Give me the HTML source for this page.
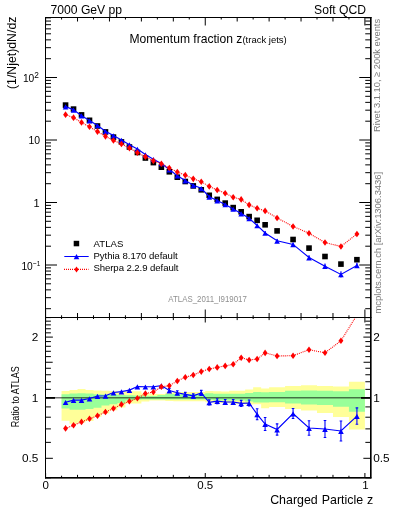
<!DOCTYPE html>
<html><head><meta charset="utf-8"><style>
html,body{margin:0;padding:0;background:#fff;width:393px;height:512px;overflow:hidden}
svg{display:block;font-family:"Liberation Sans",sans-serif;will-change:transform}
</style></head><body>
<svg width="393" height="512" viewBox="0 0 393 512">
<rect width="393" height="512" fill="#fff"/>
<defs><clipPath id="cu"><rect x="45.5" y="17.5" width="325" height="300"/></clipPath>
<clipPath id="cl"><rect x="45.5" y="317.5" width="325" height="160"/></clipPath></defs>
<g clip-path="url(#cl)">
<path d="M61.57 390.9 L69.55 390.9 L69.55 390 L77.53 390 L77.53 389.1 L85.51 389.1 L85.51 390 L93.5 390 L93.5 390.6 L101.48 390.6 L101.48 390.7 L109.46 390.7 L109.46 391 L117.44 391 L117.44 391.9 L125.43 391.9 L125.43 391.2 L133.41 391.2 L133.41 391.2 L141.39 391.2 L141.39 393.4 L149.37 393.4 L149.37 393.7 L157.36 393.7 L157.36 394 L165.34 394 L165.34 392.5 L173.32 392.5 L173.32 392 L181.3 392 L181.3 392 L189.28 392 L189.28 392.1 L197.27 392.1 L197.27 392.1 L205.25 392.1 L205.25 391 L213.23 391 L213.23 391.3 L221.22 391.3 L221.22 391.5 L229.2 391.5 L229.2 390.7 L237.18 390.7 L237.18 390.7 L245.16 390.7 L245.16 389.5 L253.15 389.5 L253.15 387.3 L261.13 387.3 L261.13 388.4 L269.11 388.4 L269.11 387.3 L285.08 387.3 L285.08 385.9 L301.04 385.9 L301.04 385.3 L317.01 385.3 L317.01 385.9 L332.97 385.9 L332.97 386.4 L348.94 386.4 L348.94 381.8 L364.9 381.8 L364.9 429.5 L348.94 429.5 L348.94 417 L332.97 417 L332.97 413.1 L317.01 413.1 L317.01 410.4 L301.04 410.4 L301.04 409 L285.08 409 L285.08 407.1 L269.11 407.1 L269.11 408.2 L261.13 408.2 L261.13 404.2 L253.15 404.2 L253.15 404.4 L245.16 404.4 L245.16 403.7 L237.18 403.7 L237.18 403.7 L229.2 403.7 L229.2 402.9 L221.22 402.9 L221.22 402.9 L213.23 402.9 L213.23 402.2 L205.25 402.2 L205.25 401.3 L197.27 401.3 L197.27 401.3 L189.28 401.3 L189.28 401.3 L181.3 401.3 L181.3 401.3 L173.32 401.3 L173.32 401 L165.34 401 L165.34 400.5 L157.36 400.5 L157.36 400.6 L149.37 400.6 L149.37 401.4 L141.39 401.4 L141.39 403.4 L133.41 403.4 L133.41 403.4 L125.43 403.4 L125.43 407.5 L117.44 407.5 L117.44 410.3 L109.46 410.3 L109.46 413.5 L101.48 413.5 L101.48 416.7 L93.5 416.7 L93.5 421 L85.51 421 L85.51 422.4 L77.53 422.4 L77.53 423.7 L69.55 423.7 L69.55 420.8 L61.57 420.8Z" fill="#ffff99"/>
<path d="M61.57 394.2 L69.55 394.2 L69.55 393.4 L77.53 393.4 L77.53 393.2 L85.51 393.2 L85.51 393.4 L93.5 393.4 L93.5 394.2 L101.48 394.2 L101.48 394.5 L109.46 394.5 L109.46 394.5 L117.44 394.5 L117.44 395 L125.43 395 L125.43 395.3 L133.41 395.3 L133.41 395.6 L141.39 395.6 L141.39 395.8 L149.37 395.8 L149.37 396 L157.36 396 L157.36 395 L165.34 395 L165.34 394.1 L173.32 394.1 L173.32 394.1 L181.3 394.1 L181.3 394.1 L189.28 394.1 L189.28 394.1 L197.27 394.1 L197.27 394.1 L205.25 394.1 L205.25 393.3 L213.23 393.3 L213.23 393.7 L221.22 393.7 L221.22 393.7 L229.2 393.7 L229.2 393.7 L237.18 393.7 L237.18 393.7 L245.16 393.7 L245.16 393 L253.15 393 L253.15 391.9 L261.13 391.9 L261.13 392.2 L269.11 392.2 L269.11 391.9 L285.08 391.9 L285.08 390.8 L301.04 390.8 L301.04 390.5 L317.01 390.5 L317.01 390.8 L332.97 390.8 L332.97 391.3 L348.94 391.3 L348.94 389.2 L364.9 389.2 L364.9 411.8 L348.94 411.8 L348.94 406.7 L332.97 406.7 L332.97 405 L317.01 405 L317.01 404.4 L301.04 404.4 L301.04 403.6 L285.08 403.6 L285.08 402.2 L269.11 402.2 L269.11 402.6 L261.13 402.6 L261.13 402.6 L253.15 402.6 L253.15 401.4 L245.16 401.4 L245.16 400.6 L237.18 400.6 L237.18 400.6 L229.2 400.6 L229.2 400.6 L221.22 400.6 L221.22 400.6 L213.23 400.6 L213.23 399.7 L205.25 399.7 L205.25 399.4 L197.27 399.4 L197.27 399.4 L189.28 399.4 L189.28 399.4 L181.3 399.4 L181.3 399.4 L173.32 399.4 L173.32 399.4 L165.34 399.4 L165.34 399.4 L157.36 399.4 L157.36 399.5 L149.37 399.5 L149.37 399.6 L141.39 399.6 L141.39 399.8 L133.41 399.8 L133.41 400.6 L125.43 400.6 L125.43 403 L117.44 403 L117.44 404.3 L109.46 404.3 L109.46 405.5 L101.48 405.5 L101.48 407.8 L93.5 407.8 L93.5 409.1 L85.51 409.1 L85.51 409.7 L77.53 409.7 L77.53 409.7 L69.55 409.7 L69.55 408.4 L61.57 408.4Z" fill="#99ff99"/>
<line x1="45.5" y1="397.7" x2="370.5" y2="397.7" stroke="#000" stroke-opacity="0.55" stroke-width="1.4"/>
<path d="M45.5 397.9H55" stroke="#000" stroke-width="1.8"/><path d="M370.75 397.9H361" stroke="#000" stroke-width="1.8"/>
<polyline points="65.56,402.2 73.54,400.1 81.52,400.1 89.5,398.5 97.49,396 105.47,395.8 113.45,392.5 121.43,391.6 129.42,390.1 137.4,386.5 145.38,386.7 153.36,386.7 161.35,385.6 169.33,390.5 177.31,392.8 185.29,394.4 193.28,395.9 201.26,392.9 209.24,402.4 217.22,401.2 225.21,402 233.19,402 241.17,403.4 249.15,403 257.14,414.3 265.12,424 277.09,429.5 293.06,413.5 309.02,428 324.99,429 340.95,431 356.92,416.1" fill="none" stroke="#0000ff" stroke-width="1.15"/>
<path d="M169.33 388.5V392.5M168.03 388.5h2.6M168.03 392.5h2.6" stroke="#0000ff" stroke-width="1.1"/>
<path d="M177.31 390.8V394.8M176.01 390.8h2.6M176.01 394.8h2.6" stroke="#0000ff" stroke-width="1.1"/>
<path d="M185.29 392.4V396.4M183.99 392.4h2.6M183.99 396.4h2.6" stroke="#0000ff" stroke-width="1.1"/>
<path d="M193.28 393.9V397.9M191.98 393.9h2.6M191.98 397.9h2.6" stroke="#0000ff" stroke-width="1.1"/>
<path d="M201.26 390.4V395.4M199.96 390.4h2.6M199.96 395.4h2.6" stroke="#0000ff" stroke-width="1.1"/>
<path d="M209.24 399.9V404.9M207.94 399.9h2.6M207.94 404.9h2.6" stroke="#0000ff" stroke-width="1.1"/>
<path d="M217.22 398.7V403.7M215.92 398.7h2.6M215.92 403.7h2.6" stroke="#0000ff" stroke-width="1.1"/>
<path d="M225.21 399.5V404.5M223.91 399.5h2.6M223.91 404.5h2.6" stroke="#0000ff" stroke-width="1.1"/>
<path d="M233.19 399.5V404.5M231.89 399.5h2.6M231.89 404.5h2.6" stroke="#0000ff" stroke-width="1.1"/>
<path d="M241.17 400.4V406.4M239.87 400.4h2.6M239.87 406.4h2.6" stroke="#0000ff" stroke-width="1.1"/>
<path d="M249.15 400V406M247.85 400h2.6M247.85 406h2.6" stroke="#0000ff" stroke-width="1.1"/>
<path d="M257.14 408.8V419.8M255.84 408.8h2.6M255.84 419.8h2.6" stroke="#0000ff" stroke-width="1.1"/>
<path d="M265.12 417.5V430.5M263.82 417.5h2.6M263.82 430.5h2.6" stroke="#0000ff" stroke-width="1.1"/>
<path d="M277.09 423.9V435.1M275.79 423.9h2.6M275.79 435.1h2.6" stroke="#0000ff" stroke-width="1.1"/>
<path d="M293.06 408.5V418.5M291.76 408.5h2.6M291.76 418.5h2.6" stroke="#0000ff" stroke-width="1.1"/>
<path d="M309.02 420.8V435.2M307.72 420.8h2.6M307.72 435.2h2.6" stroke="#0000ff" stroke-width="1.1"/>
<path d="M324.99 420.5V437.5M323.69 420.5h2.6M323.69 437.5h2.6" stroke="#0000ff" stroke-width="1.1"/>
<path d="M340.95 421V441M339.65 421h2.6M339.65 441h2.6" stroke="#0000ff" stroke-width="1.1"/>
<path d="M356.92 407.9V424.3M355.62 407.9h2.6M355.62 424.3h2.6" stroke="#0000ff" stroke-width="1.1"/>
<path d="M65.56 399.9L68.36 405.1L62.76 405.1Z" fill="#0000ff"/>
<path d="M73.54 397.8L76.34 403L70.74 403Z" fill="#0000ff"/>
<path d="M81.52 397.8L84.32 403L78.72 403Z" fill="#0000ff"/>
<path d="M89.5 396.2L92.3 401.4L86.7 401.4Z" fill="#0000ff"/>
<path d="M97.49 393.7L100.29 398.9L94.69 398.9Z" fill="#0000ff"/>
<path d="M105.47 393.5L108.27 398.7L102.67 398.7Z" fill="#0000ff"/>
<path d="M113.45 390.2L116.25 395.4L110.65 395.4Z" fill="#0000ff"/>
<path d="M121.43 389.3L124.23 394.5L118.63 394.5Z" fill="#0000ff"/>
<path d="M129.42 387.8L132.22 393L126.62 393Z" fill="#0000ff"/>
<path d="M137.4 384.2L140.2 389.4L134.6 389.4Z" fill="#0000ff"/>
<path d="M145.38 384.4L148.18 389.6L142.58 389.6Z" fill="#0000ff"/>
<path d="M153.36 384.4L156.16 389.6L150.56 389.6Z" fill="#0000ff"/>
<path d="M161.35 383.3L164.15 388.5L158.55 388.5Z" fill="#0000ff"/>
<path d="M169.33 388.2L172.13 393.4L166.53 393.4Z" fill="#0000ff"/>
<path d="M177.31 390.5L180.11 395.7L174.51 395.7Z" fill="#0000ff"/>
<path d="M185.29 392.1L188.09 397.3L182.49 397.3Z" fill="#0000ff"/>
<path d="M193.28 393.6L196.08 398.8L190.48 398.8Z" fill="#0000ff"/>
<path d="M201.26 390.6L204.06 395.8L198.46 395.8Z" fill="#0000ff"/>
<path d="M209.24 400.1L212.04 405.3L206.44 405.3Z" fill="#0000ff"/>
<path d="M217.22 398.9L220.02 404.1L214.42 404.1Z" fill="#0000ff"/>
<path d="M225.21 399.7L228.01 404.9L222.41 404.9Z" fill="#0000ff"/>
<path d="M233.19 399.7L235.99 404.9L230.39 404.9Z" fill="#0000ff"/>
<path d="M241.17 401.1L243.97 406.3L238.37 406.3Z" fill="#0000ff"/>
<path d="M249.15 400.7L251.95 405.9L246.35 405.9Z" fill="#0000ff"/>
<path d="M257.14 412L259.94 417.2L254.34 417.2Z" fill="#0000ff"/>
<path d="M265.12 421.7L267.92 426.9L262.32 426.9Z" fill="#0000ff"/>
<path d="M277.09 427.2L279.89 432.4L274.29 432.4Z" fill="#0000ff"/>
<path d="M293.06 411.2L295.86 416.4L290.26 416.4Z" fill="#0000ff"/>
<path d="M309.02 425.7L311.82 430.9L306.22 430.9Z" fill="#0000ff"/>
<path d="M324.99 426.7L327.79 431.9L322.19 431.9Z" fill="#0000ff"/>
<path d="M340.95 428.7L343.75 433.9L338.15 433.9Z" fill="#0000ff"/>
<path d="M356.92 413.8L359.72 419L354.12 419Z" fill="#0000ff"/>
<polyline points="65.56,428.4 73.54,425.2 81.52,421.9 89.5,418.7 97.49,415.8 105.47,412 113.45,408.5 121.43,404.4 129.42,401.3 137.4,398.2 145.38,393.6 153.36,392 161.35,386.8 169.33,385.7 177.31,381 185.29,377.2 193.28,375 201.26,371.6 209.24,369 217.22,367.4 225.21,365.9 233.19,364.3 241.17,357.8 249.15,360 257.14,359 265.12,352.9 277.09,356 293.06,355.7 309.02,349.7 324.99,352.8 340.95,340.8 356.92,315" fill="none" stroke="#ff0000" stroke-width="1.1" stroke-dasharray="1 1"/>
<path d="M65.56 425.1L68.01 428.4L65.56 431.7L63.11 428.4Z" fill="#ff0000"/>
<path d="M73.54 421.9L75.99 425.2L73.54 428.5L71.09 425.2Z" fill="#ff0000"/>
<path d="M81.52 418.6L83.97 421.9L81.52 425.2L79.07 421.9Z" fill="#ff0000"/>
<path d="M89.5 415.4L91.95 418.7L89.5 422L87.05 418.7Z" fill="#ff0000"/>
<path d="M97.49 412.5L99.94 415.8L97.49 419.1L95.04 415.8Z" fill="#ff0000"/>
<path d="M105.47 408.7L107.92 412L105.47 415.3L103.02 412Z" fill="#ff0000"/>
<path d="M113.45 405.2L115.9 408.5L113.45 411.8L111 408.5Z" fill="#ff0000"/>
<path d="M121.43 401.1L123.88 404.4L121.43 407.7L118.98 404.4Z" fill="#ff0000"/>
<path d="M129.42 398L131.87 401.3L129.42 404.6L126.97 401.3Z" fill="#ff0000"/>
<path d="M137.4 394.9L139.85 398.2L137.4 401.5L134.95 398.2Z" fill="#ff0000"/>
<path d="M145.38 390.3L147.83 393.6L145.38 396.9L142.93 393.6Z" fill="#ff0000"/>
<path d="M153.36 388.7L155.81 392L153.36 395.3L150.91 392Z" fill="#ff0000"/>
<path d="M161.35 383.5L163.8 386.8L161.35 390.1L158.9 386.8Z" fill="#ff0000"/>
<path d="M169.33 382.4L171.78 385.7L169.33 389L166.88 385.7Z" fill="#ff0000"/>
<path d="M177.31 377.7L179.76 381L177.31 384.3L174.86 381Z" fill="#ff0000"/>
<path d="M185.29 373.9L187.74 377.2L185.29 380.5L182.84 377.2Z" fill="#ff0000"/>
<path d="M193.28 371.7L195.73 375L193.28 378.3L190.83 375Z" fill="#ff0000"/>
<path d="M201.26 368.3L203.71 371.6L201.26 374.9L198.81 371.6Z" fill="#ff0000"/>
<path d="M209.24 365.7L211.69 369L209.24 372.3L206.79 369Z" fill="#ff0000"/>
<path d="M217.22 364.1L219.67 367.4L217.22 370.7L214.77 367.4Z" fill="#ff0000"/>
<path d="M225.21 362.6L227.66 365.9L225.21 369.2L222.76 365.9Z" fill="#ff0000"/>
<path d="M233.19 361L235.64 364.3L233.19 367.6L230.74 364.3Z" fill="#ff0000"/>
<path d="M241.17 354.5L243.62 357.8L241.17 361.1L238.72 357.8Z" fill="#ff0000"/>
<path d="M249.15 356.7L251.6 360L249.15 363.3L246.7 360Z" fill="#ff0000"/>
<path d="M257.14 355.7L259.59 359L257.14 362.3L254.69 359Z" fill="#ff0000"/>
<path d="M265.12 349.6L267.57 352.9L265.12 356.2L262.67 352.9Z" fill="#ff0000"/>
<path d="M277.09 352.7L279.54 356L277.09 359.3L274.64 356Z" fill="#ff0000"/>
<path d="M293.06 352.4L295.51 355.7L293.06 359L290.61 355.7Z" fill="#ff0000"/>
<path d="M309.02 346.4L311.47 349.7L309.02 353L306.57 349.7Z" fill="#ff0000"/>
<path d="M324.99 349.5L327.44 352.8L324.99 356.1L322.54 352.8Z" fill="#ff0000"/>
<path d="M340.95 337.5L343.4 340.8L340.95 344.1L338.5 340.8Z" fill="#ff0000"/>
<path d="M356.92 311.7L359.37 315L356.92 318.3L354.47 315Z" fill="#ff0000"/>
</g>
<g clip-path="url(#cu)">
<rect x="62.76" y="102.3" width="5.6" height="5.6" fill="#000"/>
<rect x="70.74" y="106.3" width="5.6" height="5.6" fill="#000"/>
<rect x="78.72" y="112.1" width="5.6" height="5.6" fill="#000"/>
<rect x="86.7" y="117.5" width="5.6" height="5.6" fill="#000"/>
<rect x="94.69" y="123.2" width="5.6" height="5.6" fill="#000"/>
<rect x="102.67" y="129.1" width="5.6" height="5.6" fill="#000"/>
<rect x="110.65" y="134.3" width="5.6" height="5.6" fill="#000"/>
<rect x="118.63" y="139.1" width="5.6" height="5.6" fill="#000"/>
<rect x="126.62" y="144.2" width="5.6" height="5.6" fill="#000"/>
<rect x="134.6" y="149.7" width="5.6" height="5.6" fill="#000"/>
<rect x="142.58" y="155.2" width="5.6" height="5.6" fill="#000"/>
<rect x="150.56" y="159.8" width="5.6" height="5.6" fill="#000"/>
<rect x="158.55" y="164.4" width="5.6" height="5.6" fill="#000"/>
<rect x="166.53" y="169" width="5.6" height="5.6" fill="#000"/>
<rect x="174.51" y="174.4" width="5.6" height="5.6" fill="#000"/>
<rect x="182.49" y="178.7" width="5.6" height="5.6" fill="#000"/>
<rect x="190.48" y="183.1" width="5.6" height="5.6" fill="#000"/>
<rect x="198.46" y="187" width="5.6" height="5.6" fill="#000"/>
<rect x="206.44" y="192.5" width="5.6" height="5.6" fill="#000"/>
<rect x="214.42" y="196.6" width="5.6" height="5.6" fill="#000"/>
<rect x="222.41" y="200.3" width="5.6" height="5.6" fill="#000"/>
<rect x="230.39" y="204.8" width="5.6" height="5.6" fill="#000"/>
<rect x="238.37" y="209" width="5.6" height="5.6" fill="#000"/>
<rect x="246.35" y="213.8" width="5.6" height="5.6" fill="#000"/>
<rect x="254.34" y="217.5" width="5.6" height="5.6" fill="#000"/>
<rect x="262.32" y="222" width="5.6" height="5.6" fill="#000"/>
<rect x="274.29" y="228.1" width="5.6" height="5.6" fill="#000"/>
<rect x="290.26" y="236.7" width="5.6" height="5.6" fill="#000"/>
<rect x="306.22" y="245.3" width="5.6" height="5.6" fill="#000"/>
<rect x="322.19" y="253.7" width="5.6" height="5.6" fill="#000"/>
<rect x="338.15" y="261.3" width="5.6" height="5.6" fill="#000"/>
<rect x="354.12" y="256.9" width="5.6" height="5.6" fill="#000"/>
<polyline points="65.56,106.5 73.54,109.85 81.52,115.65 89.5,120.55 97.49,125.47 105.47,131.31 113.45,135.49 121.43,140.01 129.42,144.64 137.4,149.02 145.38,154.58 153.36,159.18 161.35,163.44 169.33,169.56 177.31,175.68 185.29,180.48 193.28,185.34 201.26,188.31 209.24,196.76 217.22,200.49 225.21,204.44 233.19,208.94 241.17,213.57 249.15,218.25 257.14,225.45 265.12,232.97 277.09,240.77 293.06,244.41 309.02,257.51 324.99,266.22 340.95,274.44 356.92,265.41" fill="none" stroke="#0000ff" stroke-width="1.15"/>
<path d="M257.14 223.75V227.16" stroke="#0000ff" stroke-width="1.1"/>
<path d="M265.12 230.95V234.98" stroke="#0000ff" stroke-width="1.1"/>
<path d="M277.09 239.03V242.51" stroke="#0000ff" stroke-width="1.1"/>
<path d="M293.06 242.85V245.96" stroke="#0000ff" stroke-width="1.1"/>
<path d="M309.02 255.27V259.74" stroke="#0000ff" stroke-width="1.1"/>
<path d="M324.99 263.58V268.86" stroke="#0000ff" stroke-width="1.1"/>
<path d="M340.95 271.33V277.54" stroke="#0000ff" stroke-width="1.1"/>
<path d="M356.92 262.87V267.96" stroke="#0000ff" stroke-width="1.1"/>
<path d="M65.56 104.2L68.36 109.4L62.76 109.4Z" fill="#0000ff"/>
<path d="M73.54 107.55L76.34 112.75L70.74 112.75Z" fill="#0000ff"/>
<path d="M81.52 113.35L84.32 118.55L78.72 118.55Z" fill="#0000ff"/>
<path d="M89.5 118.25L92.3 123.45L86.7 123.45Z" fill="#0000ff"/>
<path d="M97.49 123.17L100.29 128.37L94.69 128.37Z" fill="#0000ff"/>
<path d="M105.47 129.01L108.27 134.21L102.67 134.21Z" fill="#0000ff"/>
<path d="M113.45 133.19L116.25 138.39L110.65 138.39Z" fill="#0000ff"/>
<path d="M121.43 137.71L124.23 142.91L118.63 142.91Z" fill="#0000ff"/>
<path d="M129.42 142.34L132.22 147.54L126.62 147.54Z" fill="#0000ff"/>
<path d="M137.4 146.72L140.2 151.92L134.6 151.92Z" fill="#0000ff"/>
<path d="M145.38 152.28L148.18 157.48L142.58 157.48Z" fill="#0000ff"/>
<path d="M153.36 156.88L156.16 162.08L150.56 162.08Z" fill="#0000ff"/>
<path d="M161.35 161.14L164.15 166.34L158.55 166.34Z" fill="#0000ff"/>
<path d="M169.33 167.26L172.13 172.46L166.53 172.46Z" fill="#0000ff"/>
<path d="M177.31 173.38L180.11 178.58L174.51 178.58Z" fill="#0000ff"/>
<path d="M185.29 178.18L188.09 183.38L182.49 183.38Z" fill="#0000ff"/>
<path d="M193.28 183.04L196.08 188.24L190.48 188.24Z" fill="#0000ff"/>
<path d="M201.26 186.01L204.06 191.21L198.46 191.21Z" fill="#0000ff"/>
<path d="M209.24 194.46L212.04 199.66L206.44 199.66Z" fill="#0000ff"/>
<path d="M217.22 198.19L220.02 203.39L214.42 203.39Z" fill="#0000ff"/>
<path d="M225.21 202.14L228.01 207.34L222.41 207.34Z" fill="#0000ff"/>
<path d="M233.19 206.64L235.99 211.84L230.39 211.84Z" fill="#0000ff"/>
<path d="M241.17 211.27L243.97 216.47L238.37 216.47Z" fill="#0000ff"/>
<path d="M249.15 215.95L251.95 221.15L246.35 221.15Z" fill="#0000ff"/>
<path d="M257.14 223.15L259.94 228.35L254.34 228.35Z" fill="#0000ff"/>
<path d="M265.12 230.67L267.92 235.87L262.32 235.87Z" fill="#0000ff"/>
<path d="M277.09 238.47L279.89 243.67L274.29 243.67Z" fill="#0000ff"/>
<path d="M293.06 242.11L295.86 247.31L290.26 247.31Z" fill="#0000ff"/>
<path d="M309.02 255.21L311.82 260.41L306.22 260.41Z" fill="#0000ff"/>
<path d="M324.99 263.92L327.79 269.12L322.19 269.12Z" fill="#0000ff"/>
<path d="M340.95 272.14L343.75 277.34L338.15 277.34Z" fill="#0000ff"/>
<path d="M356.92 263.11L359.72 268.31L354.12 268.31Z" fill="#0000ff"/>
<polyline points="65.56,114.63 73.54,117.64 81.52,122.41 89.5,126.82 97.49,131.62 105.47,136.34 113.45,140.45 121.43,143.98 129.42,148.12 137.4,152.66 145.38,156.73 153.36,160.83 161.35,163.82 169.33,168.07 177.31,172.01 185.29,175.14 193.28,178.85 201.26,181.7 209.24,186.39 217.22,189.99 225.21,193.23 233.19,197.23 241.17,199.41 249.15,204.89 257.14,208.28 265.12,210.89 277.09,217.95 293.06,226.46 309.02,233.2 324.99,242.56 340.95,246.43 356.92,234.02" fill="none" stroke="#ff0000" stroke-width="1.1" stroke-dasharray="1 1"/>
<path d="M65.56 111.33L68.01 114.63L65.56 117.93L63.11 114.63Z" fill="#ff0000"/>
<path d="M73.54 114.34L75.99 117.64L73.54 120.94L71.09 117.64Z" fill="#ff0000"/>
<path d="M81.52 119.11L83.97 122.41L81.52 125.71L79.07 122.41Z" fill="#ff0000"/>
<path d="M89.5 123.52L91.95 126.82L89.5 130.12L87.05 126.82Z" fill="#ff0000"/>
<path d="M97.49 128.32L99.94 131.62L97.49 134.92L95.04 131.62Z" fill="#ff0000"/>
<path d="M105.47 133.04L107.92 136.34L105.47 139.64L103.02 136.34Z" fill="#ff0000"/>
<path d="M113.45 137.15L115.9 140.45L113.45 143.75L111 140.45Z" fill="#ff0000"/>
<path d="M121.43 140.68L123.88 143.98L121.43 147.28L118.98 143.98Z" fill="#ff0000"/>
<path d="M129.42 144.82L131.87 148.12L129.42 151.42L126.97 148.12Z" fill="#ff0000"/>
<path d="M137.4 149.36L139.85 152.66L137.4 155.96L134.95 152.66Z" fill="#ff0000"/>
<path d="M145.38 153.43L147.83 156.73L145.38 160.03L142.93 156.73Z" fill="#ff0000"/>
<path d="M153.36 157.53L155.81 160.83L153.36 164.13L150.91 160.83Z" fill="#ff0000"/>
<path d="M161.35 160.52L163.8 163.82L161.35 167.12L158.9 163.82Z" fill="#ff0000"/>
<path d="M169.33 164.77L171.78 168.07L169.33 171.37L166.88 168.07Z" fill="#ff0000"/>
<path d="M177.31 168.71L179.76 172.01L177.31 175.31L174.86 172.01Z" fill="#ff0000"/>
<path d="M185.29 171.84L187.74 175.14L185.29 178.44L182.84 175.14Z" fill="#ff0000"/>
<path d="M193.28 175.55L195.73 178.85L193.28 182.15L190.83 178.85Z" fill="#ff0000"/>
<path d="M201.26 178.4L203.71 181.7L201.26 185L198.81 181.7Z" fill="#ff0000"/>
<path d="M209.24 183.09L211.69 186.39L209.24 189.69L206.79 186.39Z" fill="#ff0000"/>
<path d="M217.22 186.69L219.67 189.99L217.22 193.29L214.77 189.99Z" fill="#ff0000"/>
<path d="M225.21 189.93L227.66 193.23L225.21 196.53L222.76 193.23Z" fill="#ff0000"/>
<path d="M233.19 193.93L235.64 197.23L233.19 200.53L230.74 197.23Z" fill="#ff0000"/>
<path d="M241.17 196.11L243.62 199.41L241.17 202.71L238.72 199.41Z" fill="#ff0000"/>
<path d="M249.15 201.59L251.6 204.89L249.15 208.19L246.7 204.89Z" fill="#ff0000"/>
<path d="M257.14 204.98L259.59 208.28L257.14 211.58L254.69 208.28Z" fill="#ff0000"/>
<path d="M265.12 207.59L267.57 210.89L265.12 214.19L262.67 210.89Z" fill="#ff0000"/>
<path d="M277.09 214.65L279.54 217.95L277.09 221.25L274.64 217.95Z" fill="#ff0000"/>
<path d="M293.06 223.16L295.51 226.46L293.06 229.76L290.61 226.46Z" fill="#ff0000"/>
<path d="M309.02 229.9L311.47 233.2L309.02 236.5L306.57 233.2Z" fill="#ff0000"/>
<path d="M324.99 239.26L327.44 242.56L324.99 245.86L322.54 242.56Z" fill="#ff0000"/>
<path d="M340.95 243.13L343.4 246.43L340.95 249.73L338.5 246.43Z" fill="#ff0000"/>
<path d="M356.92 230.72L359.37 234.02L356.92 237.32L354.47 234.02Z" fill="#ff0000"/>
</g>
<path d="M45.5 17V478.5M45 17.5H371.5M45 317.5H371.5M45 477.75H371.5M370.75 17V478.5" stroke="#000" fill="none" stroke-width="1"/>
<path d="M45 477.75H371.5M370.75 17V478.5" stroke="#000" fill="none" stroke-width="1.5"/>
<path d="M45.6 17.5v8M45.6 317.5v-8M45.6 317.5v5M45.6 477.75v-4.75M61.57 17.5v2M61.57 317.5v-2.2M61.57 317.5v1.5M61.57 477.75v-2M77.53 17.5v4M77.53 317.5v-4.5M77.53 317.5v2.6M77.53 477.75v-2.9M93.5 17.5v2M93.5 317.5v-2.2M93.5 317.5v1.5M93.5 477.75v-2M109.46 17.5v4M109.46 317.5v-4.5M109.46 317.5v2.6M109.46 477.75v-2.9M125.43 17.5v2M125.43 317.5v-2.2M125.43 317.5v1.5M125.43 477.75v-2M141.39 17.5v4M141.39 317.5v-4.5M141.39 317.5v2.6M141.39 477.75v-2.9M157.36 17.5v2M157.36 317.5v-2.2M157.36 317.5v1.5M157.36 477.75v-2M173.32 17.5v4M173.32 317.5v-4.5M173.32 317.5v2.6M173.32 477.75v-2.9M189.28 17.5v2M189.28 317.5v-2.2M189.28 317.5v1.5M189.28 477.75v-2M205.25 17.5v8M205.25 317.5v-8M205.25 317.5v5M205.25 477.75v-4.75M221.22 17.5v2M221.22 317.5v-2.2M221.22 317.5v1.5M221.22 477.75v-2M237.18 17.5v4M237.18 317.5v-4.5M237.18 317.5v2.6M237.18 477.75v-2.9M253.15 17.5v2M253.15 317.5v-2.2M253.15 317.5v1.5M253.15 477.75v-2M269.11 17.5v4M269.11 317.5v-4.5M269.11 317.5v2.6M269.11 477.75v-2.9M285.08 17.5v2M285.08 317.5v-2.2M285.08 317.5v1.5M285.08 477.75v-2M301.04 17.5v4M301.04 317.5v-4.5M301.04 317.5v2.6M301.04 477.75v-2.9M317.01 17.5v2M317.01 317.5v-2.2M317.01 317.5v1.5M317.01 477.75v-2M332.97 17.5v4M332.97 317.5v-4.5M332.97 317.5v2.6M332.97 477.75v-2.9M348.94 17.5v2M348.94 317.5v-2.2M348.94 317.5v1.5M348.94 477.75v-2M364.9 17.5v8M364.9 317.5v-8M364.9 317.5v5M364.9 477.75v-4.75M45.5 308.69h5.5M370.75 308.69h-5.5M45.5 297.68h5.5M370.75 297.68h-5.5M45.5 289.87h5.5M370.75 289.87h-5.5M45.5 283.81h5.5M370.75 283.81h-5.5M45.5 278.87h5.5M370.75 278.87h-5.5M45.5 274.68h5.5M370.75 274.68h-5.5M45.5 271.06h5.5M370.75 271.06h-5.5M45.5 267.86h5.5M370.75 267.86h-5.5M45.5 265h11.5M370.75 265h-11.5M45.5 246.19h5.5M370.75 246.19h-5.5M45.5 235.18h5.5M370.75 235.18h-5.5M45.5 227.37h5.5M370.75 227.37h-5.5M45.5 221.31h5.5M370.75 221.31h-5.5M45.5 216.37h5.5M370.75 216.37h-5.5M45.5 212.18h5.5M370.75 212.18h-5.5M45.5 208.56h5.5M370.75 208.56h-5.5M45.5 205.36h5.5M370.75 205.36h-5.5M45.5 202.5h11.5M370.75 202.5h-11.5M45.5 183.69h5.5M370.75 183.69h-5.5M45.5 172.68h5.5M370.75 172.68h-5.5M45.5 164.87h5.5M370.75 164.87h-5.5M45.5 158.81h5.5M370.75 158.81h-5.5M45.5 153.87h5.5M370.75 153.87h-5.5M45.5 149.68h5.5M370.75 149.68h-5.5M45.5 146.06h5.5M370.75 146.06h-5.5M45.5 142.86h5.5M370.75 142.86h-5.5M45.5 140h11.5M370.75 140h-11.5M45.5 121.19h5.5M370.75 121.19h-5.5M45.5 110.18h5.5M370.75 110.18h-5.5M45.5 102.37h5.5M370.75 102.37h-5.5M45.5 96.31h5.5M370.75 96.31h-5.5M45.5 91.37h5.5M370.75 91.37h-5.5M45.5 87.18h5.5M370.75 87.18h-5.5M45.5 83.56h5.5M370.75 83.56h-5.5M45.5 80.36h5.5M370.75 80.36h-5.5M45.5 77.5h11.5M370.75 77.5h-11.5M45.5 58.69h5.5M370.75 58.69h-5.5M45.5 47.68h5.5M370.75 47.68h-5.5M45.5 39.87h5.5M370.75 39.87h-5.5M45.5 33.81h5.5M370.75 33.81h-5.5M45.5 28.87h5.5M370.75 28.87h-5.5M45.5 24.68h5.5M370.75 24.68h-5.5M45.5 21.06h5.5M370.75 21.06h-5.5M45.5 17.86h5.5M370.75 17.86h-5.5M45.5 477.81h5.4M370.75 477.81h-5.4M45.5 458.3h7.4M370.75 458.3h-7.4M45.5 442.36h5.4M370.75 442.36h-5.4M45.5 428.88h5.4M370.75 428.88h-5.4M45.5 417.21h5.4M370.75 417.21h-5.4M45.5 406.91h5.4M370.75 406.91h-5.4M45.5 397.7h9M370.75 397.7h-9M45.5 389.37h5.4M370.75 389.37h-5.4M45.5 381.76h5.4M370.75 381.76h-5.4M45.5 374.76h5.4M370.75 374.76h-5.4M45.5 368.28h5.4M370.75 368.28h-5.4M45.5 362.25h7.2M370.75 362.25h-7.2M45.5 356.61h5.4M370.75 356.61h-5.4M45.5 351.31h5.4M370.75 351.31h-5.4M45.5 346.31h5.4M370.75 346.31h-5.4M45.5 341.59h5.4M370.75 341.59h-5.4M45.5 337.1h7.4M370.75 337.1h-7.4M45.5 332.84h5.4M370.75 332.84h-5.4M45.5 328.77h5.4M370.75 328.77h-5.4M45.5 324.88h5.4M370.75 324.88h-5.4M45.5 321.16h5.4M370.75 321.16h-5.4M45.5 317.59h5.4M370.75 317.59h-5.4" stroke="#000" stroke-width="1" fill="none"/>
<text x="50.5" y="14.1" font-size="12.15" text-anchor="start" fill="#000" font-family="Liberation Sans, sans-serif" >7000 GeV pp</text>
<text x="366" y="14.1" font-size="12.15" text-anchor="end" fill="#000" font-family="Liberation Sans, sans-serif" >Soft QCD</text>
<text x="129.5" y="43.4" font-family="Liberation Sans, sans-serif" fill="#000"><tspan font-size="12.1">Momentum fraction z</tspan><tspan font-size="9.5" dy="0">(track jets)</tspan></text>
<text x="34.3" y="81.7" font-size="11" text-anchor="end" fill="#000" font-family="Liberation Sans, sans-serif" textLength="11.4" lengthAdjust="spacingAndGlyphs">10</text>
<text x="34.3" y="77.9" font-size="8.3" text-anchor="start" fill="#000" font-family="Liberation Sans, sans-serif" >2</text>
<text x="40" y="144" font-size="11" text-anchor="end" fill="#000" font-family="Liberation Sans, sans-serif" textLength="11.6" lengthAdjust="spacingAndGlyphs">10</text>
<text x="39.6" y="206.9" font-size="11" text-anchor="end" fill="#000" font-family="Liberation Sans, sans-serif" >1</text>
<text x="32.8" y="269.8" font-size="11" text-anchor="end" fill="#000" font-family="Liberation Sans, sans-serif" textLength="11.4" lengthAdjust="spacingAndGlyphs">10</text>
<text x="32.9" y="266.4" font-size="8" text-anchor="start" fill="#000" font-family="Liberation Sans, sans-serif" textLength="7.4" lengthAdjust="spacingAndGlyphs">&#8722;1</text>
<text x="38.4" y="341" font-size="11.8" text-anchor="end" fill="#000" font-family="Liberation Sans, sans-serif" >2</text>
<text x="38.4" y="401.6" font-size="11.8" text-anchor="end" fill="#000" font-family="Liberation Sans, sans-serif" >1</text>
<text x="38.4" y="462" font-size="11.8" text-anchor="end" fill="#000" font-family="Liberation Sans, sans-serif" >0.5</text>
<text x="373.2" y="341" font-size="11.8" text-anchor="start" fill="#000" font-family="Liberation Sans, sans-serif" >2</text>
<text x="373.2" y="402.2" font-size="11.8" text-anchor="start" fill="#000" font-family="Liberation Sans, sans-serif" >1</text>
<text x="373.2" y="462" font-size="11.8" text-anchor="start" fill="#000" font-family="Liberation Sans, sans-serif" >0.5</text>
<text x="45.6" y="489.3" font-size="11.5" text-anchor="middle" fill="#000" font-family="Liberation Sans, sans-serif" >0</text>
<text x="205.25" y="489.3" font-size="11.5" text-anchor="middle" fill="#000" font-family="Liberation Sans, sans-serif" >0.5</text>
<text x="365.5" y="489.3" font-size="11.5" text-anchor="middle" fill="#000" font-family="Liberation Sans, sans-serif" >1</text>
<text x="373.3" y="504.4" font-size="12.4" text-anchor="end" fill="#000" font-family="Liberation Sans, sans-serif" word-spacing="0.6">Charged Particle z</text>
<text transform="translate(15.9,16.6) rotate(-90)" font-size="12.3" text-anchor="end" font-family="Liberation Sans, sans-serif">(1/Njet)dN/dz</text>
<text transform="translate(18.9,366.3) rotate(-90)" font-size="10.2" text-anchor="end" textLength="61" lengthAdjust="spacingAndGlyphs" font-family="Liberation Sans, sans-serif">Ratio to ATLAS</text>
<text transform="translate(380.1,131.9) rotate(-90)" font-size="9.6" textLength="113" lengthAdjust="spacingAndGlyphs" fill="#7a7a7a" font-family="Liberation Sans, sans-serif">Rivet 3.1.10, &#8805; 200k events</text>
<text transform="translate(381.2,313.5) rotate(-90)" font-size="9.5" textLength="141.7" lengthAdjust="spacing" fill="#7a7a7a" font-family="Liberation Sans, sans-serif">mcplots.cern.ch [arXiv:1306.3436]</text>
<text x="207.6" y="302" font-size="8.2" text-anchor="middle" fill="#8f8f8f" font-family="Liberation Sans, sans-serif" textLength="78.5" lengthAdjust="spacingAndGlyphs">ATLAS_2011_I919017</text>
<rect x="73.7" y="240.8" width="5.5" height="5.5" fill="#000"/>
<line x1="64.3" y1="256.5" x2="88.7" y2="256.5" stroke="#0000ff" stroke-width="1"/>
<path d="M76.5 254L79.3 259.2L73.7 259.2Z" fill="#0000ff"/>
<line x1="64" y1="269.4" x2="88.5" y2="269.4" stroke="#ff0000" stroke-width="1.1" stroke-dasharray="1 1"/>
<path d="M76.5 266.4L78.65 269.5L76.5 272.6L74.35 269.5Z" fill="#ff0000"/>
<text x="93.6" y="247.2" font-size="9.6" text-anchor="start" fill="#000" font-family="Liberation Sans, sans-serif" textLength="29.8" lengthAdjust="spacing">ATLAS</text>
<text x="93.4" y="259.4" font-size="9.6" text-anchor="start" fill="#000" font-family="Liberation Sans, sans-serif" textLength="84.3" lengthAdjust="spacing">Pythia 8.170 default</text>
<text x="93.4" y="271.4" font-size="9.6" text-anchor="start" fill="#000" font-family="Liberation Sans, sans-serif" textLength="85" lengthAdjust="spacing">Sherpa 2.2.9 default</text>
</svg>
</body></html>
